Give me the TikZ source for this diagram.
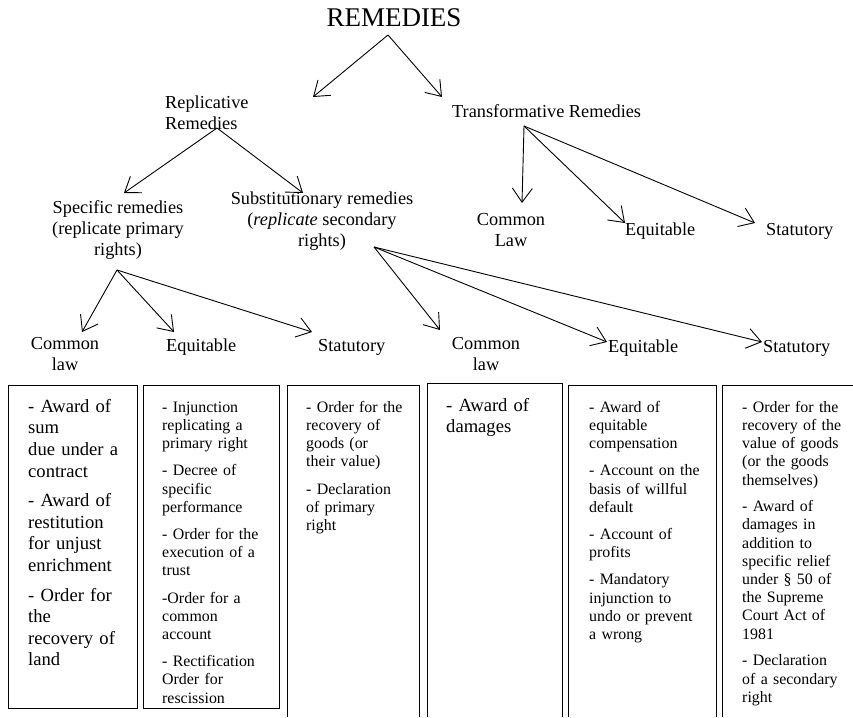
\documentclass[tikz,border=0pt]{standalone}
\usepackage{fontspec}
\setmainfont{Liberation Serif}
\usetikzlibrary{arrows.meta}
\tikzset{
  lbl/.style={font=\fontsize{18.3}{21}\selectfont, inner sep=0pt},
  lblm/.style={lbl, align=center, anchor=north},
  boxs/.style={inner sep=0pt, align=left, anchor=north west, font=\fontsize{15.9}{18.2}\selectfont},
  boxl/.style={inner sep=0pt, align=left, anchor=north west, font=\fontsize{18.6}{21.6}\selectfont},
  arr/.style={line width=0.9pt, -{Straight Barb[length=14pt,width=20pt,line width=0.9pt]}},
  frame/.style={line width=0.9pt}
}
\begin{document}
\begin{tikzpicture}[x=1pt,y=-1pt]
\useasboundingbox (0,0) rectangle (853,717);

% titles and labels
\node[lbl, font=\fontsize{27}{30}\selectfont, anchor=base] (root) at (394,27) {REMEDIES};
\node[lbl, align=left, anchor=north west] (rep) at (165,93.3) {\strut Replicative\\Remedies};
\node[lbl, anchor=base west] (trans) at (452,117) {Transformative Remedies};
\node[lblm] (spec) at (118,198.3) {\strut Specific remedies\\(replicate primary\\rights)};
\node[lblm] (subst) at (322,189.3) {\strut Substitutionary remedies\\(\textit{replicate} secondary\\rights)};
\node[lblm] (tcl) at (511,210.3) {\strut Common\\Law};
\node[lbl, anchor=base west] (teq) at (625,235) {Equitable};
\node[lbl, anchor=base west] (tst) at (766,235) {Statutory};
\node[lblm] (scl) at (65,334.3) {\strut Common\\law};
\node[lbl, anchor=base west] (seq) at (166,351) {Equitable};
\node[lbl, anchor=base west] (sst) at (318,351) {Statutory};
\node[lblm] (ucl) at (486,334.3) {\strut Common\\law};
\node[lbl, anchor=base west] (ueq) at (608,352) {Equitable};
\node[lbl, anchor=base west] (ust) at (763,352) {Statutory};

% arrow points
\coordinate (rootA) at (388,35);
\coordinate (repT) at (313,97);
\coordinate (transT) at (442,97);
\coordinate (repA) at (217,128);
\coordinate (specT) at (124,193);
\coordinate (substT) at (303,193);
\coordinate (transA) at (524,126);
\coordinate (tclT) at (522,203);
\coordinate (teqT) at (625,223);
\coordinate (tstT) at (755,223);
\coordinate (specA) at (117,270);
\coordinate (sclT) at (82,332);
\coordinate (seqT) at (174,332);
\coordinate (sstT) at (312,332);
\coordinate (substA) at (374,247);
\coordinate (uclT) at (440,330);
\coordinate (ueqT) at (607,342);
\coordinate (ustT) at (762,342);

\draw[arr] (rootA) -- (repT);
\draw[arr] (rootA) -- (transT);
\draw[arr] (repA) -- (specT);
\draw[arr] (repA) -- (substT);
\draw[arr] (transA) -- (tclT);
\draw[arr] (transA) -- (teqT);
\draw[arr] (transA) -- (tstT);
\draw[arr] (specA) -- (sclT);
\draw[arr] (specA) -- (seqT);
\draw[arr] (specA) -- (sstT);
\draw[arr] (substA) -- (uclT);
\draw[arr] (substA) -- (ueqT);
\draw[arr] (substA) -- (ustT);

% frames
\draw[frame] (8,385) rectangle (137,708);
\draw[frame] (143,385) rectangle (279,708);
\draw[frame] (287,717) -- (287,385) -- (419,385) -- (419,717);
\draw[frame] (427,717) -- (427,383) -- (562,383) -- (562,717);
\draw[frame] (568,717) -- (568,385) -- (716,385) -- (716,717);
\draw[frame] (722,717) -- (722,385) -- (853,385);

% box texts
\node[boxl, text width=105pt] (b1) at (28,397) {\strut - Award of\\sum\\due under a\\contract\\[8pt]- Award of\\restitution\\for unjust\\enrichment\\[8pt]- Order for\\the\\recovery of\\land};
\node[boxs, text width=112pt] (b2) at (162,399.3) {\strut - Injunction\\replicating a\\primary right\\[9pt]- Decree of\\specific\\performance\\[9pt]- Order for the\\execution of a\\trust\\[9pt]-Order for a\\common\\account\\[9pt]- Rectification\\Order for\\rescission};
\node[boxs, text width=110pt] (b3) at (306,399.3) {\strut - Order for the\\recovery of\\goods (or\\their value)\\[9pt]- Declaration\\of primary\\right};
\node[boxl, text width=110pt] (b4) at (446,396) {\strut - Award of\\damages};
\node[boxs, text width=122pt] (b5) at (589,399.3) {\strut - Award of\\equitable\\compensation\\[9pt]- Account on the\\basis of willful\\default\\[9pt]- Account of\\profits\\[9pt]- Mandatory\\injunction to\\undo or prevent\\a wrong};
\node[boxs, text width=108pt] (b6) at (742,399.3) {\strut - Order for the\\recovery of the\\value of goods\\(or the goods\\themselves)\\[8.5pt]- Award of\\damages in\\addition to\\specific relief\\under \S\ 50 of\\the Supreme\\Court Act of\\1981\\[8.5pt]- Declaration\\of a secondary\\right};
\end{tikzpicture}
\end{document}
